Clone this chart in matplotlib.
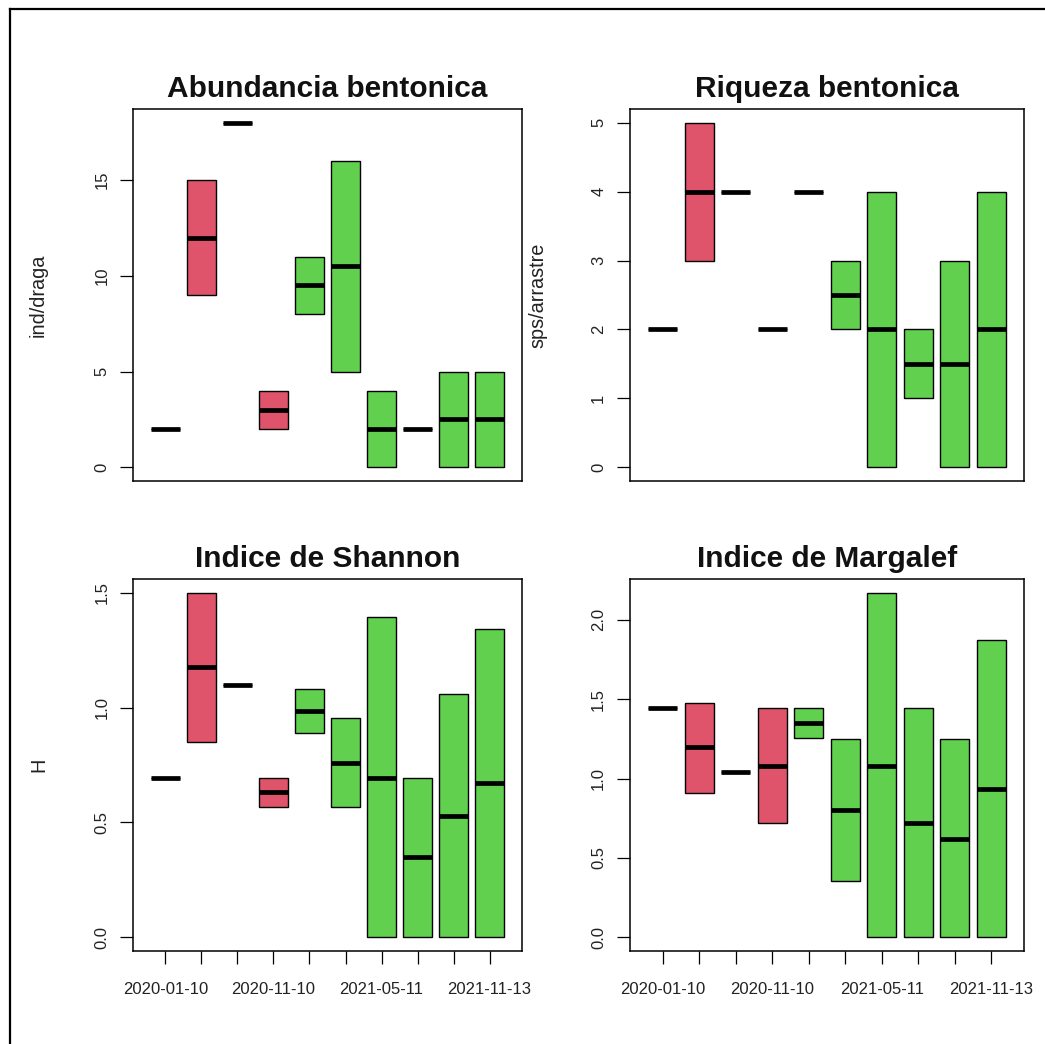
import matplotlib
matplotlib.use("Agg")
import matplotlib.pyplot as plt
from matplotlib.lines import Line2D

plt.rcParams['font.family'] = ['Liberation Sans', 'DejaVu Sans']

# Sampling dates (only every third label fits under the axis)
etiquetas_fecha = ["2020-01-10", "", "", "2020-11-10", "", "", "2021-05-11", "", "", "2021-11-13"]
grupo_color = ["#DF536B"] * 4 + ["#61D04F"] * 6

# Abundancia bentonica (ind/draga): min, median, max per sampling
abund_min = [2, 9, 18, 2, 8, 5, 0, 2, 0, 0]
abund_med = [2, 12, 18, 3, 9.5, 10.5, 2, 2, 2.5, 2.5]
abund_max = [2, 15, 18, 4, 11, 16, 4, 2, 5, 5]

# Riqueza bentonica (sps/arrastre)
riq_min = [2, 3, 4, 2, 4, 2, 0, 1, 0, 0]
riq_med = [2, 4, 4, 2, 4, 2.5, 2, 1.5, 1.5, 2]
riq_max = [2, 5, 4, 2, 4, 3, 4, 2, 3, 4]

# Indice de Shannon (H)
shan_min = [0.693, 0.85, 1.099, 0.565, 0.888, 0.566, 0, 0, 0, 0]
shan_med = [0.693, 1.177, 1.099, 0.631, 0.984, 0.759, 0.693, 0.35, 0.526, 0.67]
shan_max = [0.693, 1.50, 1.099, 0.693, 1.081, 0.955, 1.395, 0.693, 1.06, 1.341]

# Indice de Margalef
marg_min = [1.443, 0.907, 1.040, 0.722, 1.257, 0.354, 0, 0, 0, 0]
marg_med = [1.443, 1.198, 1.040, 1.078, 1.350, 0.802, 1.078, 0.722, 0.622, 0.932]
marg_max = [1.443, 1.477, 1.040, 1.443, 1.443, 1.247, 2.171, 1.443, 1.247, 1.873]

W, H = 1045, 1044
fig = plt.figure(figsize=(W / 100, H / 100), dpi=100)


def px_axes(x0, y0, x1, y1):
    return fig.add_axes([x0 / W, 1 - y1 / H, (x1 - x0) / W, (y1 - y0) / H])


paneles = [
    dict(rect=(133, 109, 522, 481), title="Abundancia bentonica", ylabel="ind/draga", ylab_x=48,
         lo=abund_min, med=abund_med, hi=abund_max, yticks=[0, 5, 10, 15], fmt="{:.0f}", xlab=False),
    dict(rect=(630, 109, 1024, 481), title="Riqueza bentonica", ylabel="sps/arrastre", ylab_x=547,
         lo=riq_min, med=riq_med, hi=riq_max, yticks=[0, 1, 2, 3, 4, 5], fmt="{:.0f}", xlab=False),
    dict(rect=(133, 579, 522, 951), title="Indice de Shannon", ylabel="H", ylab_x=48,
         lo=shan_min, med=shan_med, hi=shan_max, yticks=[0, 0.5, 1.0, 1.5], fmt="{:.1f}", xlab=True),
    dict(rect=(630, 579, 1024, 951), title="Indice de Margalef", ylabel="", ylab_x=547,
         lo=marg_min, med=marg_med, hi=marg_max, yticks=[0, 0.5, 1.0, 1.5, 2.0], fmt="{:.1f}", xlab=True),
]

pos = list(range(1, len(etiquetas_fecha) + 1))

for p in paneles:
    x0, y0, x1, y1 = p["rect"]
    ax = px_axes(x0, y0, x1, y1)
    stats = [dict(med=m, q1=a, q3=b, whislo=a, whishi=b, fliers=[])
             for a, m, b in zip(p["lo"], p["med"], p["hi"])]
    bp = ax.bxp(stats, positions=pos, widths=0.8, patch_artist=True,
                showcaps=False, showfliers=False,
                boxprops=dict(linewidth=1.0, edgecolor="black"),
                whiskerprops=dict(linewidth=1.0, color="black"),
                medianprops=dict(color="black", linewidth=3.4, solid_capstyle="butt"))
    for box, c in zip(bp["boxes"], grupo_color):
        box.set_facecolor(c)

    # R-style 4% padding around the data range
    lo_all, hi_all = min(p["lo"]), max(p["hi"])
    span = hi_all - lo_all
    ax.set_ylim(lo_all - 0.04 * span, hi_all + 0.04 * span)
    ax.set_xlim(0.1, 10.9)

    ax.set_yticks(p["yticks"])
    ax.set_yticklabels([p["fmt"].format(v) for v in p["yticks"]], rotation=90, va="center")
    ax.tick_params(axis="y", length=9.1, width=0.9, pad=8, labelsize=12, labelcolor="#222222")

    ax.set_xticks(pos)
    if p["xlab"]:
        ax.set_xticklabels(etiquetas_fecha)
        ax.tick_params(axis="x", length=9.1, width=0.9, pad=13, labelsize=12, labelcolor="#222222")
    else:
        ax.tick_params(axis="x", bottom=False, labelbottom=False)

    for s in ax.spines.values():
        s.set_linewidth(1.1)

    ax.set_title(p["title"], fontsize=21.5, fontweight="bold", pad=8.6, color="#111111")
    if p["ylabel"]:
        ax.set_ylabel(p["ylabel"], fontsize=14.3, color="#222222")
        ax.yaxis.set_label_coords((p["ylab_x"] - x0) / (x1 - x0), 0.5)

# Outer frame along the left and top edges
fig.add_artist(Line2D([10 / W, 10 / W], [0, 1 - 9 / H], color="black", lw=1.6,
                      transform=fig.transFigure))
fig.add_artist(Line2D([10 / W, 1], [1 - 9 / H, 1 - 9 / H], color="black", lw=1.6,
                      transform=fig.transFigure))

fig.savefig("out.png", dpi=100, facecolor="white")
